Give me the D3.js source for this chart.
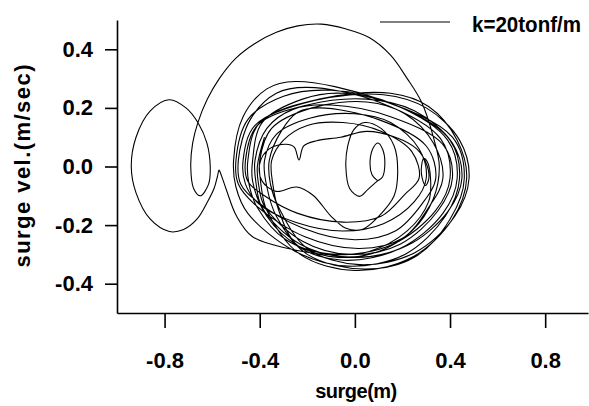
<!DOCTYPE html>
<html>
<head>
<meta charset="utf-8">
<script src="https://cdn.jsdelivr.net/npm/d3@7"></script>
<style>
  body { margin: 0; background: #fff; }
  svg { display: block; }
  .axis text { font-family: "Liberation Sans", Arial, sans-serif; font-weight: bold; font-size: 22px; fill: #000; }
  .axis path, .axis line { stroke: #000; stroke-width: 1.6; }
</style>
</head>
<body>
<svg id="chart" width="589" height="406"></svg>
<script>
// tick values
var xTicks = [-0.8, -0.4, 0.0, 0.4, 0.8];
var yTicks = [-0.4, -0.2, 0.0, 0.2, 0.4];

// trajectory pieces [surge (m), surge vel. (m/sec)] in time order
var startLoops = [
    [0.095, -0.048], [0.072, -0.028], [0.064, 0.02], [0.078, 0.065], [0.097, 0.08], [0.117, 0.058],
    [0.126, 0.01], [0.116, -0.036], [0.094, -0.05], [0.055, -0.078], [0.02, -0.102], [-0.022, -0.075],
    [-0.038, 0.0], [-0.03, 0.07], [-0.005, 0.125], [0.04, 0.15], [0.11, 0.13], [0.165, 0.07],
    [0.18, -0.02], [0.165, -0.10], [0.10, -0.17], [0.03, -0.215], [-0.04, -0.21], [-0.10, -0.17]
];
var innerDent = [
    [-0.176, -0.098], [-0.245, -0.07], [-0.33, -0.085], [-0.39, -0.05], [-0.40, 0.01],
    [-0.36, 0.06], [-0.29, 0.076], [-0.255, 0.066], [-0.235, 0.022], [-0.215, 0.07], [-0.16, 0.088],
    [-0.06, 0.10], [0.05, 0.12], [0.17, 0.10], [0.26, 0.06]
];
var rightKink = [
    [0.305, 0.0], [0.31, -0.045], [0.297, -0.065], [0.283, -0.04], [0.28, 0.0], [0.29, 0.028],
    [0.305, 0.015], [0.318, -0.04], [0.31, -0.12], [0.22, -0.22], [0.06, -0.29], [-0.12, -0.30],
    [-0.28, -0.28]
];
var leftExcursion = [
    [-0.43, -0.24], [-0.497, -0.17], [-0.54, -0.08], [-0.565, -0.022], [-0.571, -0.012], [-0.578, -0.035],
    [-0.592, -0.075], [-0.616, -0.115], [-0.664, -0.18], [-0.72, -0.215], [-0.78, -0.222], [-0.86, -0.18],
    [-0.92, -0.09], [-0.94, 0.0], [-0.92, 0.10], [-0.86, 0.19], [-0.78, 0.228], [-0.71, 0.2],
    [-0.66, 0.15], [-0.622, 0.08], [-0.608, 0.0], [-0.615, -0.06], [-0.65, -0.10], [-0.678, -0.075],
    [-0.69, 0.0], [-0.682, 0.08], [-0.66, 0.15], [-0.62, 0.23]
];
var bigArc = [
    [-0.57, 0.30], [-0.50, 0.37], [-0.42, 0.42], [-0.33, 0.458], [-0.24, 0.48], [-0.14, 0.486],
    [-0.04, 0.47], [0.06, 0.44], [0.15, 0.38], [0.22, 0.30], [0.28, 0.22], [0.33, 0.10],
    [0.355, 0.0], [0.33, -0.11], [0.24, -0.22], [0.10, -0.29], [-0.07, -0.31], [-0.24, -0.27],
    [-0.37, -0.17], [-0.43, -0.05]
];
var settledLoops = [
    [-0.43, 0.02], [-0.39, 0.15], [-0.22, 0.23], [-0.05, 0.25], [0.20, 0.20], [0.40, 0.09],
    [0.44, -0.04], [0.38, -0.17], [0.21, -0.30], [-0.03, -0.34], [-0.25, -0.29], [-0.45, -0.16],
    [-0.50, -0.07],
    [-0.51, 0.02], [-0.47, 0.17], [-0.37, 0.265], [-0.25, 0.29], [0.10, 0.23], [0.41, 0.10],
    [0.46, -0.04], [0.40, -0.18], [0.25, -0.31], [0.04, -0.35], [-0.20, -0.30], [-0.33, -0.17],
    [-0.37, -0.07],
    [-0.38, 0.02], [-0.33, 0.11], [-0.19, 0.165], [0.0, 0.18], [0.15, 0.15], [0.27, 0.06],
    [0.30, -0.04], [0.25, -0.12], [0.12, -0.195], [-0.05, -0.22], [-0.25, -0.19], [-0.40, -0.13],
    [-0.46, -0.06],
    [-0.47, 0.02], [-0.42, 0.14], [-0.17, 0.225], [0.12, 0.245], [0.30, 0.20], [0.44, 0.09],
    [0.48, -0.04], [0.42, -0.17], [0.25, -0.295], [0.02, -0.335], [-0.20, -0.28], [-0.32, -0.14],
    [-0.355, -0.06],
    [-0.36, 0.02], [-0.31, 0.12], [-0.24, 0.185], [-0.15, 0.20], [0.10, 0.16], [0.30, 0.07],
    [0.34, -0.04], [0.28, -0.13], [0.17, -0.22], [0.0, -0.25], [-0.22, -0.21], [-0.41, -0.12],
    [-0.48, -0.06],
    [-0.49, 0.02], [-0.44, 0.16], [-0.33, 0.25], [-0.20, 0.27], [0.10, 0.22], [0.36, 0.095],
    [0.40, -0.04], [0.34, -0.15], [0.16, -0.265], [-0.08, -0.30], [-0.29, -0.25], [-0.41, -0.14],
    [-0.445, -0.06],
    [-0.45, 0.02], [-0.40, 0.15], [-0.15, 0.23], [0.15, 0.25], [0.31, 0.205], [0.43, 0.09],
    [0.47, -0.04], [0.41, -0.18], [0.24, -0.31], [0.0, -0.355], [-0.23, -0.30], [-0.37, -0.15],
    [-0.395, -0.06],
    [-0.40, 0.02], [-0.35, 0.13], [-0.18, 0.20], [0.05, 0.22], [0.21, 0.18], [0.33, 0.08],
    [0.37, -0.04], [0.31, -0.14], [0.20, -0.245], [0.02, -0.28], [-0.21, -0.24], [-0.42, -0.13],
    [-0.49, -0.06],
    [-0.50, 0.02], [-0.45, 0.16], [-0.30, 0.24], [-0.10, 0.26], [0.17, 0.21], [0.39, 0.09],
    [0.43, -0.04], [0.37, -0.16], [0.19, -0.28], [-0.05, -0.32], [-0.24, -0.27], [-0.32, -0.15],
    [-0.345, -0.06],
    [-0.35, 0.02], [-0.30, 0.09], [-0.20, 0.14], [-0.05, 0.15], [0.11, 0.12], [0.24, 0.05],
    [0.27, -0.04], [0.21, -0.095], [0.11, -0.17], [-0.05, -0.19], [-0.24, -0.16], [-0.38, -0.10],
    [-0.45, -0.05],
    [-0.46, 0.02], [-0.41, 0.14], [-0.20, 0.21], [0.05, 0.23], [0.25, 0.19], [0.41, 0.08],
    [0.45, -0.04], [0.39, -0.155], [0.22, -0.27], [0.0, -0.31], [-0.23, -0.265], [-0.39, -0.14],
    [-0.415, -0.06],
    [-0.42, 0.02], [-0.37, 0.13], [-0.26, 0.195], [-0.10, 0.21], [0.15, 0.17], [0.37, 0.075],
    [0.41, -0.04], [0.35, -0.15], [0.19, -0.265], [-0.02, -0.30], [-0.22, -0.255], [-0.38, -0.135],
    [-0.405, -0.06], [-0.41, 0.0], [-0.38, 0.10]
];

var trajectory = [].concat(startLoops, innerDent, rightKink, leftExcursion, bigArc, settledLoops);

var svg = d3.select('#chart');

var x = d3.scaleLinear().domain([-1.0, 0.98]).range([117, 588]);
var y = d3.scaleLinear().domain([-0.5, 0.5]).range([313, 20]);

var fmt = function(d) { return d.toFixed(1); };

svg.append('g')
    .attr('class', 'axis')
    .attr('transform', 'translate(0,313)')
    .call(d3.axisBottom(x).tickValues(xTicks).tickFormat(fmt)
        .tickSize(15).tickSizeOuter(0).tickPadding(24));

svg.append('g')
    .attr('class', 'axis')
    .attr('transform', 'translate(117,0)')
    .call(d3.axisLeft(y).tickValues(yTicks).tickFormat(fmt)
        .tickSize(12).tickSizeOuter(0).tickPadding(12));

var line = d3.line()
    .x(function(d) { return x(d[0]); })
    .y(function(d) { return y(d[1]); })
    .curve(d3.curveCatmullRom.alpha(0.5));

svg.append('path')
    .datum(trajectory)
    .attr('d', line)
    .attr('fill', 'none')
    .attr('stroke', '#000')
    .attr('stroke-width', 1.1);

// axis titles
svg.append('text')
    .attr('x', 356)
    .attr('y', 398)
    .attr('text-anchor', 'middle')
    .style('font', 'bold 20px "Liberation Sans", Arial, sans-serif')
    .style('letter-spacing', '-0.5px')
    .text('surge(m)');

svg.append('text')
    .attr('transform', 'translate(30,166) rotate(-90)')
    .attr('text-anchor', 'middle')
    .attr('textLength', 203)
    .attr('lengthAdjust', 'spacing')
    .style('font', 'bold 22px "Liberation Sans", Arial, sans-serif')
    .text('surge vel.(m/sec)');

// legend
var legend = svg.append('g').attr('class', 'legend');
legend.append('line')
    .attr('x1', 380).attr('x2', 450)
    .attr('y1', 22).attr('y2', 22)
    .attr('stroke', '#000')
    .attr('stroke-width', 1.1);
legend.append('text')
    .attr('x', 472)
    .attr('y', 32)
    .attr('textLength', 109)
    .attr('lengthAdjust', 'spacingAndGlyphs')
    .style('font', 'bold 22px "Liberation Sans", Arial, sans-serif')
    .text('k=20tonf/m');
</script>
</body>
</html>
